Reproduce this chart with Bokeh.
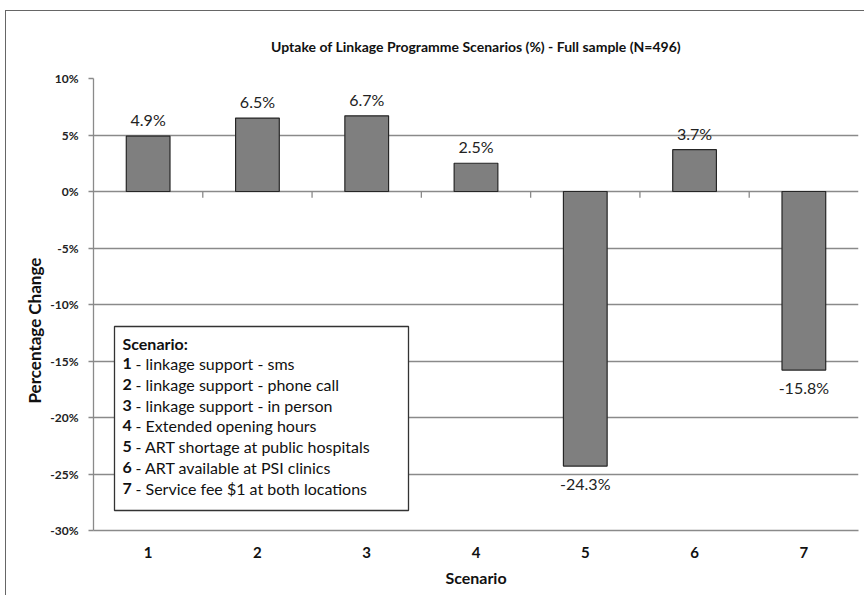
from bokeh.plotting import figure
from bokeh.models import (FactorRange, Range1d, FixedTicker, PrintfTickFormatter,
                          BoxAnnotation, Label, ColumnDataSource, Title)
from bokeh.core.properties import value
from bokeh.embed import file_html
from bokeh.resources import INLINE

# ---- data ----
scenarios = ["1", "2", "3", "4", "5", "6", "7"]
uptake_change = [4.9, 6.5, 6.7, 2.5, -24.3, 3.7, -15.8]
y_ticks = [-30, -25, -20, -15, -10, -5, 0, 5, 10]
legend_title = "Scenario:"
legend_items = [
    "linkage support - sms",
    "linkage support - phone call",
    "linkage support - in person",
    "Extended opening hours",
    "ART shortage at public hospitals",
    "ART available at PSI clinics",
    "Service fee $1 at both locations",
]
title_text = "Uptake of Linkage Programme Scenarios (%) - Full sample (N=496)"

FONT = "Lato"
GRID = "#8a8a8a"

p = figure(x_range=FactorRange(factors=scenarios, range_padding=0),
           y_range=Range1d(-30, 10),
           width=859, height=585, output_backend="svg", toolbar_location=None,
           min_border_left=87, min_border_right=7, min_border_top=67,
           min_border_bottom=66)
p.styles = {"margin-left": "5px", "margin-top": "10px",
            "border-left": "1px solid #666", "border-top": "1px solid #666"}
p.outline_line_color = None
p.background_fill_color = "white"
p.border_fill_color = "white"

p.title.text = title_text
p.title.text_font = FONT
p.title.text_font_size = "14px"
p.title.text_font_style = "bold"
p.title.align = "center"
p.title.text_color = "#111111"
p.title.standoff = 47

# y-axis title as a side title (shifted down like the original)
p.add_layout(Title(text="Percentage Change", align="left", offset=127,
                   text_font=FONT, text_font_size="17px", text_font_style="bold",
                   text_color="#111111", standoff=6), "left")

# grid
p.xgrid.grid_line_color = None
p.ygrid.grid_line_color = GRID
p.ygrid.grid_line_width = 1.3
p.ygrid.ticker = FixedTicker(ticks=y_ticks)

# y axis
p.yaxis.ticker = FixedTicker(ticks=y_ticks)
p.yaxis.formatter = PrintfTickFormatter(format="%d%%")
p.yaxis.axis_line_color = GRID
p.yaxis.axis_line_width = 1.3
p.yaxis.major_tick_line_color = GRID
p.yaxis.major_tick_line_width = 1.3
p.yaxis.major_tick_out = 5
p.yaxis.major_tick_in = 0
p.yaxis.minor_tick_line_color = None
p.yaxis.major_label_text_font = FONT
p.yaxis.major_label_text_font_size = "12px"
p.yaxis.major_label_text_font_style = "bold"
p.yaxis.major_label_text_color = "#222222"
p.yaxis.major_label_standoff = 10

# x axis
p.xaxis.axis_line_color = GRID
p.xaxis.axis_line_width = 1.3
p.xaxis.major_tick_line_color = None
p.xaxis.minor_tick_line_color = None
p.xaxis.major_label_text_font = FONT
p.xaxis.major_label_text_font_size = "15px"
p.xaxis.major_label_text_font_style = "bold"
p.xaxis.major_label_text_color = "#111111"
p.xaxis.major_label_standoff = 10
p.xaxis.axis_label = "Scenario"
p.xaxis.axis_label_text_font = FONT
p.xaxis.axis_label_text_font_size = "16px"
p.xaxis.axis_label_text_font_style = "bold"
p.xaxis.axis_label_text_color = "#111111"
p.xaxis.axis_label_standoff = 7

# category tick marks on the zero line
bounds = list(range(1, len(scenarios)))
p.segment(x0=bounds, x1=bounds, y0=[0] * len(bounds), y1=[-0.55] * len(bounds),
          line_color=GRID, line_width=1.3)

# bars
src = ColumnDataSource(dict(x=scenarios, top=uptake_change))
p.vbar(x="x", top="top", bottom=0, width=0.4, source=src,
       fill_color="#7f7f7f", line_color="#262626", line_width=1.2)

pos = ColumnDataSource(dict(
    x=[s for s, v in zip(scenarios, uptake_change) if v >= 0],
    y=[v for v in uptake_change if v >= 0],
    t=[f"{v:.1f}%" for v in uptake_change if v >= 0]))
neg = ColumnDataSource(dict(
    x=[s for s, v in zip(scenarios, uptake_change) if v < 0],
    y=[v for v in uptake_change if v < 0],
    t=[f"{v:.1f}%" for v in uptake_change if v < 0]))
p.text(x="x", y="y", text="t", source=pos, text_align="center",
       text_baseline="bottom", y_offset=-7, text_font=value(FONT),
       text_font_size="16px", text_color="#222222")
p.text(x="x", y="y", text="t", source=neg, text_align="center",
       text_baseline="top", y_offset=8, text_font=value(FONT),
       text_font_size="16px", text_color="#222222")

# helpers: page pixel -> data coordinate (frame: x 93..858, y 78..530)
ppx = (858 - 93) / len(scenarios)
ppy = (530 - 78) / 40.0
def fx(px):
    return (px - 93) / ppx
def fy(py):
    return 10 - (py - 78) / ppy

# legend box
p.add_layout(BoxAnnotation(left=fx(114), right=fx(408), top=fy(326), bottom=fy(510),
                           fill_color="white", fill_alpha=1.0,
                           line_color="#333333", line_width=1.3, line_alpha=1.0))
p.add_layout(Label(x=fx(122), y=fy(343), text=legend_title, text_baseline="middle",
                   text_font=FONT, text_font_size="16px", text_font_style="bold",
                   text_color="#111111"))
for i, (num, item) in enumerate(zip(scenarios, legend_items)):
    yy = fy(363 + i * 20.8)
    p.add_layout(Label(x=fx(122), y=yy, text=num, text_baseline="middle",
                       text_font=FONT, text_font_size="16px", text_font_style="bold",
                       text_color="#111111"))
    p.add_layout(Label(x=fx(122), y=yy, x_offset=13, text="- " + item,
                       text_baseline="middle",
                       text_font=FONT, text_font_size="16px",
                       text_color="#111111"))

open("out.html", "w").write(file_html(p, INLINE))
